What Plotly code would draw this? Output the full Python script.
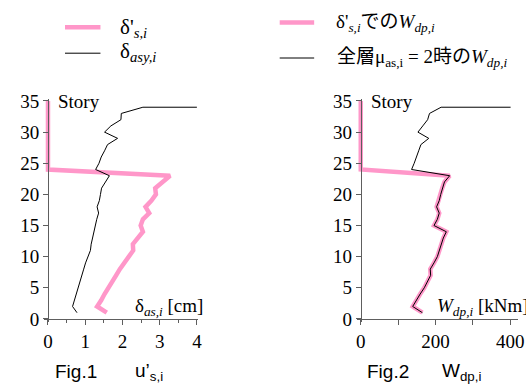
import plotly.graph_objects as go

W, H = 526, 392

# ---- data -------------------------------------------------------------
stories = list(range(35, 0, -1))  # 35 ... 1

# Fig.1: residual drift delta'_{s,i} [cm] (zero above story 24)
drift_s = [0.0] * 12 + [3.28, 3.06, 2.88, 2.90, 2.78, 2.62, 2.72, 2.55, 2.49,
                        2.55, 2.40, 2.28, 2.29, 2.16, 2.05, 1.93, 1.83, 1.72,
                        1.61, 1.52, 1.43, 1.32, 1.58]

# Fig.1: delta_{asy,i} [cm]
asy_story = [34, 34, 33, 32, 31, 30, 29, 28, 27, 26, 25, 24, 23, 22, 21, 20, 19,
             18, 17, 16, 15, 14, 13, 12, 11, 10, 9, 8, 7, 6, 5, 4, 3, 2, 1]
drift_asy = [4.00, 2.55, 1.97, 1.96, 1.69, 1.52, 1.87, 1.60, 1.52, 1.43, 1.37,
             1.28, 1.65, 1.54, 1.44, 1.41, 1.38, 1.32, 1.36, 1.31, 1.27, 1.25,
             1.21, 1.16, 1.14, 1.07, 1.01, 0.96, 0.91, 0.85, 0.80, 0.75, 0.71,
             0.66, 0.78]

# Fig.2: W_dp,i [kNm] at delta'_{s,i}
wdp_s = [0.0] * 12 + [238, 224, 218, 214, 210, 203, 210, 205, 196, 229, 221,
                      216, 212, 205, 196, 186, 187, 179, 170, 159, 150, 139, 165]

# Fig.2: W_dp,i [kNm] with mu_as,i = 2 in all stories
wdp_mu2 = [401, 215, 184, 179, 166, 153, 182, 161, 155, 150, 143, 136,
           238, 224, 218, 214, 210, 203, 210, 205, 196, 229, 221, 216, 212,
           205, 196, 186, 187, 179, 170, 159, 150, 139, 165]

story_ticks = [0, 5, 10, 15, 20, 25, 30, 35]
fig1_ticks = [0, 1, 2, 3, 4]
fig2_ticks = [0, 100, 200, 300, 400]
fig2_ticktext = ["0", "", "200", "", "400"]

PINK = "#ff97c9"
AXIS = "#5e5e5e"
SERIF_ONLY = "'Liberation Serif', 'Times New Roman', Times, serif"
SERIF = "'Liberation Serif', 'Times New Roman', Times, 'Noto Sans CJK JP', serif"
SANS = "'Liberation Sans', Arial, Helvetica, sans-serif"


def fx(p):
    return p / W


def fy(p):
    return 1 - p / H


# pixel geometry of the two panels
Y0, Y35 = 323.3, 96.7
PPS = (Y0 - Y35) / 35.0
YR = [-0.5, 35.4]
ydom = [fy(Y0 + (0 - YR[0]) * PPS), fy(Y0 - YR[1] * PPS)]

X1_0, PPU1 = 47.7, 37.8
XR1 = [-0.12, 4.02]
x1dom = [fx(X1_0 + XR1[0] * PPU1), fx(X1_0 + XR1[1] * PPU1)]

X2_0, PPU2 = 365.3, 0.3795
XR2 = [-10, 420]
x2dom = [fx(X2_0 + XR2[0] * PPU2), fx(X2_0 + XR2[1] * PPU2)]

fig = go.Figure()

fig.add_trace(go.Scatter(x=drift_s, y=stories, mode="lines",
                         line=dict(color=PINK, width=4.5), xaxis="x", yaxis="y"))
fig.add_trace(go.Scatter(x=drift_asy, y=asy_story, mode="lines",
                         line=dict(color="black", width=1), xaxis="x", yaxis="y"))
fig.add_trace(go.Scatter(x=wdp_s, y=stories, mode="lines",
                         line=dict(color=PINK, width=4.5), xaxis="x2", yaxis="y2"))
fig.add_trace(go.Scatter(x=wdp_mu2, y=asy_story, mode="lines",
                         line=dict(color="black", width=1), xaxis="x2", yaxis="y2"))

tickfont = dict(family=SERIF_ONLY, size=19, color="black")
axis_common = dict(showline=True, linecolor=AXIS, linewidth=1, ticks="outside",
                   ticklen=5, tickcolor=AXIS, showgrid=False, zeroline=False,
                   tickfont=tickfont, fixedrange=True,
                   ticklabeloverflow="allow")

fig.update_layout(
    width=W, height=H,
    margin=dict(l=0, r=0, t=0, b=0),
    font=dict(family=SERIF_ONLY, size=18, color="black"),
    paper_bgcolor="white", plot_bgcolor="rgba(0,0,0,0)",
    showlegend=False,
    xaxis=dict(domain=x1dom, range=XR1, tickvals=fig1_ticks,
               anchor="free", position=fy(Y0),
               minor=dict(dtick=0.5, tick0=0, ticks="outside", ticklen=3,
                          tickcolor=AXIS),
               **axis_common),
    yaxis=dict(domain=ydom, range=YR, tickvals=story_ticks,
               anchor="free", position=fx(X1_0), **axis_common),
    xaxis2=dict(domain=x2dom, range=XR2, tickvals=fig2_ticks,
                ticktext=fig2_ticktext, anchor="free", position=fy(Y0),
                **axis_common),
    yaxis2=dict(domain=ydom, range=YR, tickvals=story_ticks,
                anchor="free", position=fx(X2_0), **axis_common),
)

# legends
for (x0, x1, yy, col, wd) in [(65, 101, 20, PINK, 4.5), (65, 101, 47, "black", 1),
                              (283, 318, 15, PINK, 4.5), (283, 318, 52, "black", 1)]:
    fig.add_shape(type="line", xref="paper", yref="paper",
                  x0=fx(x0), x1=fx(x1), y0=fy(yy), y1=fy(yy),
                  line=dict(color=col, width=wd))

texts = [
    (119, 21, "δ'<sub><i>s,i</i></sub>", "left", 21, SERIF),
    (119, 46, "δ<sub><i>asy,i</i></sub>", "left", 21, SERIF),
    (338, 16, "δ'<sub><i>s,i</i></sub>での<i>W</i><sub><i>dp,i</i></sub>", "left", 19, SERIF),
    (339, 52, "全層μ<sub>as,i</sub> = 2時の<i>W</i><sub><i>dp,i</i></sub>", "left", 19, SERIF),
    (56, 97, "Story", "left", 19, SERIF_ONLY),
    (374, 97, "Story", "left", 19, SERIF_ONLY),
    (207, 311, "δ<sub><i>as,i</i></sub> [cm]", "right", 19, SERIF_ONLY),
    (441, 311, "<i>W</i><sub><i>dp,i</i></sub> [kNm]", "left", 19, SERIF_ONLY),
    (53, 378, "Fig.1", "left", 19, SANS),
    (134, 378, "u’<sub>s,i</sub>", "left", 19, SANS),
    (370, 378, "Fig.2", "left", 19, SANS),
    (446, 378, "W<sub>dp,i</sub>", "left", 19, SANS),
]
for (x, y, t, anc, size, fam) in texts:
    fig.add_annotation(xref="paper", yref="paper", x=fx(x), y=fy(y), text=t,
                       showarrow=False, xanchor=anc, yanchor="middle",
                       font=dict(family=fam, size=size, color="black"))

fig.write_html("out.html")
